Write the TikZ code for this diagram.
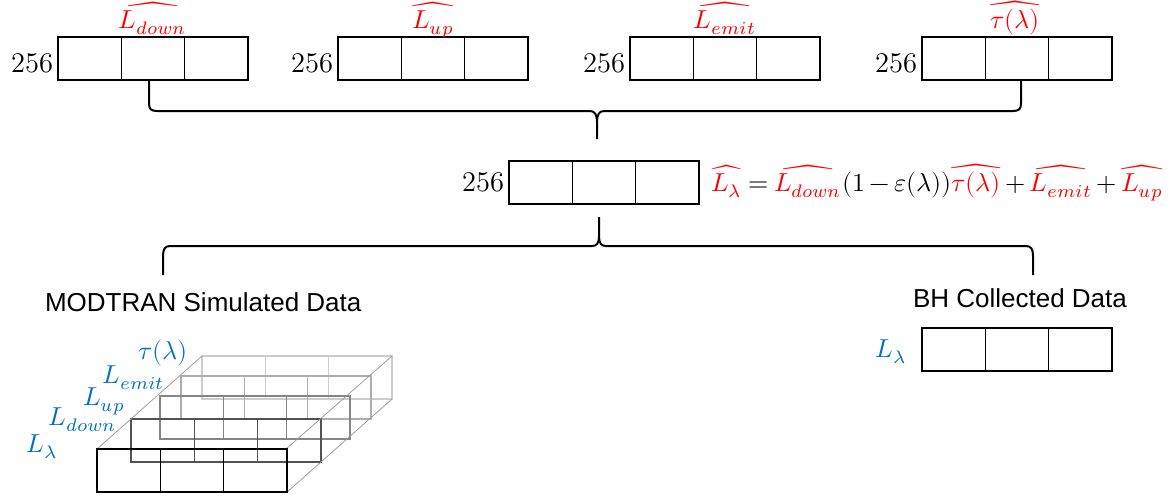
\documentclass[tikz,border=0pt]{standalone}
\usepackage{fontspec}
\usepackage{unicode-math}
\setmathfont{Latin Modern Math}
\setsansfont{Liberation Sans}
\usetikzlibrary{calc}
\definecolor{eqred}{RGB}{255,0,0}
\definecolor{lblue}{RGB}{0,112,192}
\newcommand\threecell[5]{%
 \node[draw=#4, line width=#5, minimum width=76pt, minimum height=17.2pt, inner sep=0pt, outer sep=0pt, anchor=north west] (#1) at (#2,#3) {};
 \draw[#4, line width=#5] ($(#1.north west)!1/3!(#1.north east)$) -- ($(#1.south west)!1/3!(#1.south east)$)
   ($(#1.north west)!2/3!(#1.north east)$) -- ($(#1.south west)!2/3!(#1.south east)$);
}
\tikzset{
  lbl/.style={inner sep=0pt, outer sep=0pt},
  numlbl/.style={lbl, anchor=base east, font=\fontsize{11.4}{13}\selectfont},
  brace/.style={line width=0.8pt, black},
  persp/.style={black!40, line width=0.3pt},
  hatlbl/.style={lbl, text=eqred, anchor=base},
  bluelbl/.style={lbl, text=lblue, anchor=base east},
  sftext/.style={lbl, anchor=base west, font=\fontsize{10.4}{12.5}\selectfont\sffamily}
}
\begin{document}
\begin{tikzpicture}[x=0.4pt,y=-0.4pt, font=\fontsize{10.4}{12.5}\selectfont]
\useasboundingbox (0,0) rectangle (1170,495);

% top row
\threecell{b1}{58}{37}{black}{0.55pt}
\threecell{b2}{338}{37}{black}{0.55pt}
\threecell{b3}{630}{37}{black}{0.55pt}
\threecell{b4}{922}{37}{black}{0.55pt}
\node[numlbl] (n1) at (53,72) {256};
\node[numlbl] (n2) at (333,72) {256};
\node[numlbl] (n3) at (625,72) {256};
\node[numlbl] (n4) at (917,72) {256};
\node[hatlbl] (h1) at (153,28) {$\widehat{L_{down}}$};
\node[hatlbl] (h2) at (433,28) {$\widehat{L_{up}}$};
\node[hatlbl] (h3) at (725,28) {$\widehat{L_{emit}}$};
\node[hatlbl] (h4) at (1015,28) {$\widehat{\tau(\lambda)}$};

% middle
\threecell{m}{509}{161}{black}{0.55pt}
\node[numlbl] (nm) at (504,191) {256};
\node[lbl, anchor=base west] (eq) at (711,191) {\resizebox{180.8pt}{!}{%
\medmuskip=3mu plus 2mu minus 3mu\thickmuskip=4mu plus 3mu$
{\color{eqred}\widehat{L_{\lambda}}} = {\color{eqred}\widehat{L_{down}}}(1-\varepsilon(\lambda)){\color{eqred}\widehat{\tau(\lambda)}} + {\color{eqred}\widehat{L_{emit}}} + {\color{eqred}\widehat{L_{up}}}$}};

% top brace
\coordinate (tl) at (149,81);
\coordinate (tr) at (1021,81);
\coordinate (tt) at (597,139);
\draw[brace] (tl) -- (149,103) .. controls (149,109) and (151,111) .. (157,111) -- (590,111)
  .. controls (595,111) and (597,115) .. (597,122) -- (tt);
\draw[brace] (tr) -- (1021,103) .. controls (1021,109) and (1019,111) .. (1013,111) -- (604,111)
  .. controls (599,111) and (597,115) .. (597,122);

% bottom brace
\coordinate (bt) at (599,217);
\coordinate (bl) at (163,275);
\coordinate (br) at (1033,275);
\draw[brace] (bt) -- (599,236) .. controls (599,243) and (597,246) .. (592,246) -- (170,246)
  .. controls (165,246) and (163,249) .. (163,256) -- (bl);
\draw[brace] (599,236) .. controls (599,243) and (601,246) .. (606,246) -- (1026,246)
  .. controls (1031,246) and (1033,249) .. (1033,256) -- (br);

% captions
\node[sftext] (cap1) at (45,311) {MODTRAN Simulated Data};
\node[sftext] (cap2) at (913,307) {BH Collected Data};

% BH data
\threecell{bh}{922}{328}{black}{0.55pt}
\node[bluelbl] (bhl) at (907,357) {$L_{\lambda}$};

% stacked layers
\threecell{s5}{202}{356}{black!20}{0.45pt}
\threecell{s4}{181}{376}{black!32}{0.45pt}
\threecell{s3}{160}{396}{black!48}{0.45pt}
\threecell{s2}{131}{419}{black!68}{0.5pt}
\draw[persp] (s5.north west) -- (97,449);
\draw[persp] (s5.north east) -- (286,449);
\draw[persp] (s5.south east) -- (286,493);
\threecell{s1}{97}{449}{black}{0.6pt}
\node[bluelbl] (l1) at (58,452) {$L_{\lambda}$};
\node[bluelbl] (l2) at (117,425) {$L_{down}$};
\node[bluelbl] (l3) at (125,405) {$L_{up}$};
\node[bluelbl] (l4) at (165,383) {$L_{emit}$};
\node[bluelbl] (l5) at (188,359) {$\tau(\lambda)$};
\end{tikzpicture}
\end{document}
